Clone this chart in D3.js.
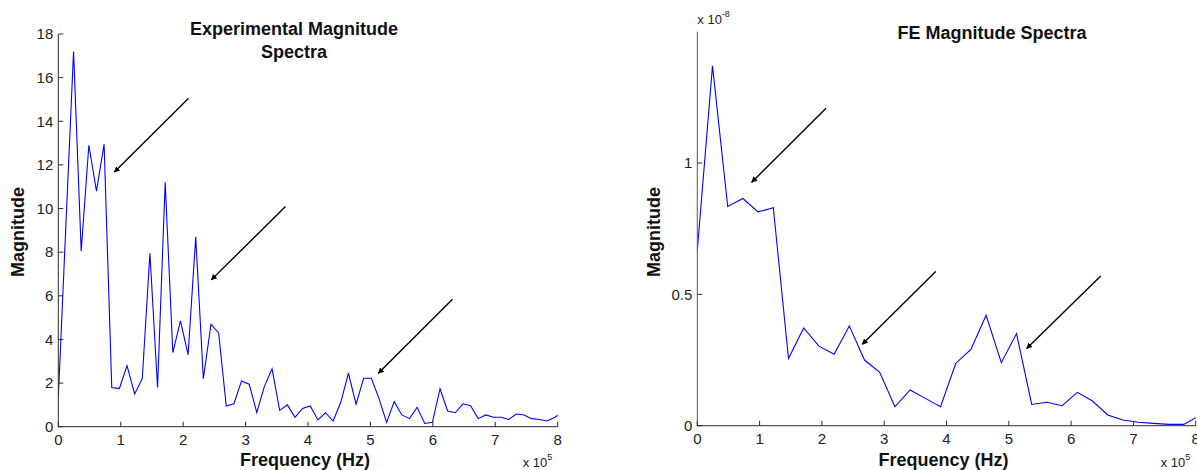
<!DOCTYPE html>
<html lang="en">
<head>
  <meta charset="UTF-8">
  <title>Magnitude Spectra</title>
  <style>
    body {
      margin: 0;
      overflow: hidden;
      background: #fff;
    }
    svg {
      display: block;
      font-family: "Liberation Sans", Arial, sans-serif;
    }
    .axis-line {
      stroke: #2b2b2b;
      stroke-width: 1px;
      fill: none;
    }
    .tick-label {
      font-size: 15px;
      fill: #222;
    }
    .spectrum {
      fill: none;
      stroke: #0000ff;
      stroke-width: 1.1px;
    }
    .arrow {
      stroke: #000;
      stroke-width: 1.4px;
    }
    .axis-title {
      font-size: 18px;
      font-weight: bold;
      fill: #111;
    }
    .exponent {
      font-size: 13px;
      fill: #222;
    }
  </style>
</head>
<body>
  <svg width="1197" height="470"></svg>
  <script src="https://d3js.org/d3.v7.min.js"></script>
  <script>
    // frequency bins are in units of 1e5 Hz
    const expFreqStep = 0.1223;
    const expMagnitude = [
      1.3, 9.3, 17.2, 8.05, 12.9, 10.8, 12.95, 1.8, 1.75, 2.8,
      1.5, 2.2, 7.95, 1.8, 11.2, 3.4, 4.85, 3.3, 8.7, 2.2,
      4.7, 4.3, 0.95, 1.05, 2.1, 1.95, 0.65, 1.85, 2.65, 0.75,
      1.0, 0.43, 0.84, 0.95, 0.31, 0.64, 0.26, 1.12, 2.45, 1.03,
      2.22, 2.22, 1.3, 0.2, 1.15, 0.54, 0.37, 0.89, 0.15, 0.2,
      1.74, 0.72, 0.64, 1.05, 0.96, 0.37, 0.54, 0.43, 0.43, 0.33,
      0.58, 0.54, 0.37, 0.33, 0.26, 0.42, 0.65
    ];

    // FE values are in units of 1e-8
    const feFreqStep = 0.244;
    const feMagnitude = [
      0.667, 1.37, 0.835, 0.865, 0.814, 0.83, 0.256, 0.372, 0.303, 0.272,
      0.38, 0.25, 0.203, 0.072, 0.136, 0.104, 0.072, 0.237, 0.29, 0.42,
      0.24, 0.351, 0.081, 0.089, 0.076, 0.127, 0.094, 0.041, 0.022, 0.013,
      0.009, 0.005, 0.005, 0.037
    ];

    const xTicks = [0, 1, 2, 3, 4, 5, 6, 7, 8];
    const expYTicks = [0, 2, 4, 6, 8, 10, 12, 14, 16, 18];
    const feYTicks = [0, 0.5, 1];

    // arrows: [fromX, fromY, toX, toY] in data units
    const expArrows = [
      [2.087, 15.06, 0.899, 11.67],
      [3.639, 10.09, 2.451, 6.73],
      [6.315, 5.84, 5.127, 2.45]
    ];
    const feArrows = [
      [2.066, 1.209, 0.873, 0.927],
      [3.827, 0.5875, 2.648, 0.310],
      [6.475, 0.570, 5.287, 0.294]
    ];

    const svg = d3.select("svg");

    svg.append("defs").append("marker")
      .attr("id", "head")
      .attr("viewBox", "0 0 10 10")
      .attr("refX", 9)
      .attr("refY", 5)
      .attr("markerWidth", 6)
      .attr("markerHeight", 6)
      .attr("markerUnits", "userSpaceOnUse")
      .attr("orient", "auto")
      .append("path")
      .attr("d", "M0,0 L10,5 L0,10 Z")
      .attr("fill", "#000");

    function drawPanel(cfg) {
      const x = d3.scaleLinear().domain([0, 8]).range([cfg.left, cfg.right]);
      const y = d3.scaleLinear().domain([0, cfg.yMax]).range([cfg.bottom, cfg.top]);
      const g = svg.append("g");

      // clip the trace to the plot box
      g.append("clipPath").attr("id", cfg.id + "-clip")
        .append("rect")
        .attr("x", cfg.left).attr("y", cfg.top)
        .attr("width", cfg.right - cfg.left)
        .attr("height", cfg.bottom - cfg.top);

      const points = cfg.values.map((v, i) => [i * cfg.step, v]);
      const line = d3.line().x(d => x(d[0])).y(d => y(d[1]));
      g.append("path")
        .datum(points)
        .attr("class", "spectrum")
        .attr("clip-path", "url(#" + cfg.id + "-clip)")
        .attr("d", line);

      // axes (ticks pointing inward, MATLAB style)
      g.append("line").attr("class", "axis-line")
        .attr("x1", cfg.left).attr("x2", cfg.left)
        .attr("y1", cfg.top).attr("y2", cfg.bottom + 0.5)
        .style("stroke", cfg.yAxisColor);
      g.append("line").attr("class", "axis-line")
        .attr("x1", cfg.left).attr("x2", cfg.right)
        .attr("y1", cfg.bottom).attr("y2", cfg.bottom);

      g.selectAll(".xtick").data(xTicks).enter().append("line")
        .attr("class", "axis-line")
        .attr("x1", d => x(d)).attr("x2", d => x(d))
        .attr("y1", cfg.bottom).attr("y2", cfg.bottom - 5);
      g.selectAll(".xlabel").data(xTicks).enter().append("text")
        .attr("class", "tick-label")
        .attr("x", d => x(d))
        .attr("y", cfg.bottom + 18)
        .attr("text-anchor", "middle")
        .text(d => d);

      g.selectAll(".ytick").data(cfg.yTicks).enter().append("line")
        .attr("class", "axis-line")
        .attr("x1", cfg.left).attr("x2", cfg.left + 5)
        .attr("y1", d => y(d)).attr("y2", d => y(d));
      g.selectAll(".ylabel").data(cfg.yTicks).enter().append("text")
        .attr("class", "tick-label")
        .attr("x", cfg.left - 5)
        .attr("y", d => y(d))
        .attr("dy", "0.35em")
        .attr("text-anchor", "end")
        .text(d => d);

      // arrows
      g.selectAll(".arrow").data(cfg.arrows).enter().append("line")
        .attr("class", "arrow")
        .attr("x1", d => x(d[0])).attr("y1", d => y(d[1]))
        .attr("x2", d => x(d[2])).attr("y2", d => y(d[3]))
        .attr("marker-end", "url(#head)");

      // titles
      const title = g.append("text")
        .attr("class", "axis-title")
        .attr("text-anchor", "middle");
      cfg.title.forEach((t, i) => {
        title.append("tspan")
          .attr("x", cfg.titleX)
          .attr("y", cfg.titleY + i * 23)
          .text(t);
      });

      g.append("text")
        .attr("class", "axis-title")
        .attr("x", (cfg.left + cfg.right) / 2 - 3)
        .attr("y", 466)
        .attr("text-anchor", "middle")
        .text("Frequency (Hz)");

      g.append("text")
        .attr("class", "axis-title")
        .attr("transform", "translate(" + cfg.magX + ",232) rotate(-90)")
        .attr("text-anchor", "middle")
        .text("Magnitude");

      // x 10^5 under the right end of the x axis
      const ex = g.append("text")
        .attr("class", "exponent")
        .attr("x", cfg.right - 35)
        .attr("y", 467);
      ex.append("tspan").text("x 10");
      ex.append("tspan").attr("dy", -7).attr("font-size", 9).text("5");

      if (cfg.yExp) {
        const ey = g.append("text")
          .attr("class", "exponent")
          .attr("x", cfg.left)
          .attr("y", 24);
        ey.append("tspan").text("x 10");
        ey.append("tspan").attr("dy", -7).attr("font-size", 9).text(cfg.yExp);
      }
    }

    drawPanel({
      id: "exp",
      left: 58.3, right: 557.7, top: 34, bottom: 426.7,
      yMax: 18,
      yTicks: expYTicks,
      values: expMagnitude,
      step: expFreqStep,
      arrows: expArrows,
      title: ["Experimental Magnitude", "Spectra"],
      titleX: 294, titleY: 35,
      magX: 24,
      yAxisColor: "#2b2b2b"
    });

    drawPanel({
      id: "fe",
      left: 697.3, right: 1195.7, top: 31.7, bottom: 425.7,
      yMax: 1.5,
      yTicks: feYTicks,
      values: feMagnitude,
      step: feFreqStep,
      arrows: feArrows,
      title: ["FE Magnitude Spectra"],
      titleX: 992, titleY: 39,
      magX: 660,
      yAxisColor: "#555",
      yExp: "-8"
    });
  </script>
</body>
</html>
